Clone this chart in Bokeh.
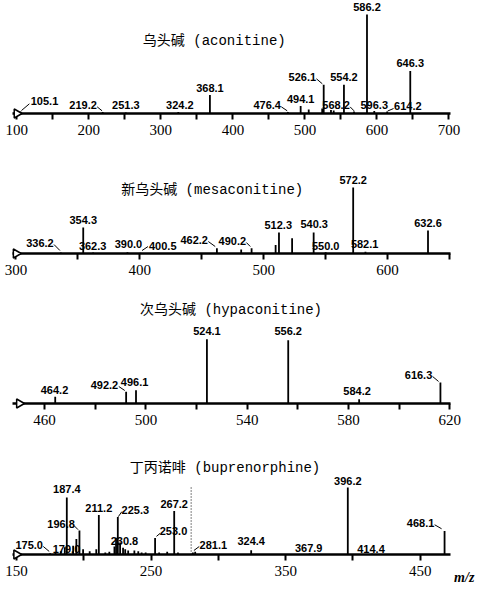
import numpy as np
from bokeh.plotting import figure
from bokeh.models import ColumnDataSource, Range1d, FixedTicker, Label
from bokeh.layouts import column
from bokeh.core.properties import value
from bokeh.embed import file_html
from bokeh.resources import INLINE

# ---------------- data ----------------
TITLES = ["乌头碱 (aconitine)", "新乌头碱 (mesaconitine)",
          "次乌头碱 (hypaconitine)", "丁丙诺啡 (buprenorphine)"]
X_UNIT = "m/z"

P1_MZ = [105.1, 219.2, 251.3, 324.2, 368.1, 476.4, 494.1, 505.3, 524.0, 526.1,
         536.2, 540.0, 554.2, 568.2, 586.2, 596.3, 614.2, 646.3]
P1_INT = [2, 1.5, 1, 1.5, 18.6, 1.5, 7.5, 4, 5, 29, 3.5, 3, 29, 2, 100, 2.5, 2, 43]
P1_LABELED = [105.1, 219.2, 251.3, 324.2, 368.1, 476.4, 494.1, 526.1, 554.2,
              568.2, 586.2, 596.3, 614.2, 646.3]
P1_TICKS = [100, 200, 300, 400, 500, 600, 700]
P1_MINOR = [150, 250, 350, 450, 550, 650]

P2_MZ = [336.2, 354.3, 362.3, 390.0, 400.5, 462.2, 481.8, 490.2, 509.6, 512.3,
         522.9, 540.3, 550.0, 572.2, 582.1, 632.6]
P2_INT = [1.5, 39.4, 1.5, 2, 1, 8, 6, 8, 13, 32, 23, 32, 2, 100, 2.5, 35]
P2_LABELED = [336.2, 354.3, 362.3, 390.0, 400.5, 462.2, 490.2, 512.3, 540.3,
              550.0, 572.2, 582.1, 632.6]
P2_TICKS = [300, 400, 500, 600]
P2_MINOR = [350, 450, 550, 650]

P3_MZ = [464.2, 492.2, 496.1, 524.1, 556.2, 584.2, 616.3]
P3_INT = [10.4, 18.2, 20.7, 100, 98.4, 6.7, 32.7]
P3_LABELED = [464.2, 492.2, 496.1, 524.1, 556.2, 584.2, 616.3]
P3_TICKS = [460, 500, 540, 580, 620]
P3_MINOR = [480, 520, 560, 600]

P4_MZ = [175.0, 179.0, 182.9, 185.9, 187.4, 192.1, 194.5, 196.8, 199.5, 204.4,
         209.3, 211.2, 216.0, 219.0, 222.8, 224.0, 225.3, 227.0, 229.2, 230.8,
         233.0, 237.6, 240.5, 243.0, 246.0, 253.0, 256.0, 262.0, 267.2, 270.0,
         281.1, 282.8, 324.4, 367.9, 396.2, 414.4, 468.1]
P4_INT = [2, 3, 5, 11, 85, 13, 23, 36, 8, 5,
          8, 59, 3, 4, 12, 25, 56, 18, 10, 8,
          6, 6, 5, 3, 3, 24.5, 3, 4, 65, 3,
          3, 4, 6.5, 1.5, 100, 1.5, 35]
P4_LABELED = [175.0, 179.0, 187.4, 196.8, 211.2, 225.3, 230.8, 253.0, 267.2,
              281.1, 324.4, 367.9, 396.2, 414.4, 468.1]
P4_TICKS = [150, 250, 350, 450]
P4_MINOR = [200, 300, 400]
P4_DOTTED = [279.8]          # dotted marker line (relative intensity 100)
P4_DOTTED_INT = [100]

AXIS_START = [100, 300, 450, 150]   # open triangle at start of each axis

# ---------------- style / layout ----------------
GEOM = [
    dict(top=8, height=147, axis_y=121, h100=99.0, ref=100, px_ref=22.4, scale=0.7317, L=18, R=463, title=(223, 48)),
    dict(top=155, height=140, axis_y=261, h100=66.0, ref=300, px_ref=23.5, scale=1.253, L=20, R=463, title=(222, 197)),
    dict(top=295, height=148, axis_y=411, h100=64.3, ref=460, px_ref=49.3, scale=2.55, L=17, R=458, title=(237, 317)),
    dict(top=443, height=147, axis_y=562, h100=67.0, ref=150, px_ref=23.0, scale=1.355, L=19, R=460, title=(233, 475)),
]
UNIT_POS = (484, 585)   # page px, right edge / middle of the "m/z" text

LABEL_OFF = [
    {105.1: (24, -10.7), 219.2: (-19.6, -7.2), 251.3: (0, -7.5), 324.2: (1.5, -7),
     368.1: (0, -7.3), 476.4: (-20.7, -7.2), 494.1: (0, -7.3), 526.1: (-21.4, -8),
     554.2: (0, -8), 568.2: (-18, -6.7), 586.2: (0, -8), 596.3: (0, -6.3),
     614.2: (20.7, -5.7), 646.3: (0, -8)},
    {336.2: (-20.9, -10), 354.3: (0, -7), 362.3: (-0.5, -6.7), 390.0: (1, -7.7),
     400.5: (22.3, -7.3), 462.2: (-22.7, -8.7), 490.2: (-19.3, -7.4), 512.3: (-0.7, -7.7),
     540.3: (0.5, -8), 550.0: (0, -6.4), 572.2: (0, -8), 582.1: (-0.8, -8), 632.6: (0, -7.7)},
    {464.2: (-0.7, -6.6), 492.2: (-21.7, -7), 496.1: (-1.4, -7.7), 524.1: (0, -8.4),
     556.2: (0, -9.5), 584.2: (-2, -8.4), 616.3: (-21.9, -7.3)},
    {175.0: (-20.9, -8.4), 179.0: (11, -3.5), 187.4: (0, -8.3), 196.8: (-18.4, -6.7),
     211.2: (0, -7.3), 225.3: (17.5, -7), 230.8: (-0.8, -8), 253.0: (18.4, -7.4),
     267.2: (0, -7.3), 281.1: (20.4, -7.3), 324.4: (0, -8.7), 367.9: (-1, -5.3),
     396.2: (0, -6.7), 414.4: (-1.3, -4.3), 468.1: (-24, -8.3)},
]

LEADERS = [
    {105.1: (1, -1, 9, -7.7), 219.2: (-5.6, -5.2, -0.6, -1.2), 476.4: (-6.7, -5.2, -0.7, -1.2),
     526.1: (-7.4, -6, -1.4, -1), 568.2: (-4, -4.7, 0, -0.7), 614.2: (6.5, -3, 0.5, -0.5)},
    {336.2: (-6.9, -8, -0.9, -2), 400.5: (1.6, -2.3, 7.6, -6.3),
     462.2: (-8.7, -6.7, -1.7, -1.7), 490.2: (-5.3, -5.7, -1.3, -1.7)},
    {492.2: (-7.4, -5.3, -1.4, -1.3), 616.3: (-7.9, -6, -1.9, -1)},
    {175.0: (-6.9, -6.7, -0.9, -1.7), 196.8: (-5.4, -4.7, -1.4, -0.7),
     225.3: (0.5, -0.3, 4, -5.3), 253.0: (1.4, -1.7, 5, -4.7),
     281.1: (1, -2, 6.4, -6), 468.1: (-10, -6.3, -3, -2.3)},
]

PANELS = [
    (P1_MZ, P1_INT, P1_LABELED, P1_TICKS, P1_MINOR),
    (P2_MZ, P2_INT, P2_LABELED, P2_TICKS, P2_MINOR),
    (P3_MZ, P3_INT, P3_LABELED, P3_TICKS, P3_MINOR),
    (P4_MZ, P4_INT, P4_LABELED, P4_TICKS, P4_MINOR),
]

FIG_W = 482
PAGE_LEFT = 8
LABEL_FONT = value("Liberation Sans")
TICK_FONT = "Liberation Serif"
TITLE_FONT = "Liberation Mono, Noto Sans CJK SC"

figs = []
for i, ((mz, inten, labeled, ticks, minor), g) in enumerate(zip(PANELS, GEOM)):
    def dx(page_x, g=g):
        return g["ref"] + (page_x - g["px_ref"]) / g["scale"]

    def dy(page_y, g=g):
        return (g["axis_y"] - page_y) / g["h100"] * 100.0

    x0, x1 = dx(g["L"]), dx(g["R"])
    y1 = dy(g["top"])
    p = figure(width=FIG_W, height=g["height"], output_backend="svg",
               toolbar_location=None, x_range=Range1d(x0, x1), y_range=Range1d(0, y1),
               y_axis_location=None, min_border_left=g["L"] - PAGE_LEFT,
               min_border_right=PAGE_LEFT + FIG_W - g["R"], min_border_top=0,
               min_border_bottom=g["top"] + g["height"] - g["axis_y"])
    p.grid.visible = False
    p.outline_line_color = None
    p.background_fill_color = "white"
    p.border_fill_color = "white"

    ax = p.xaxis[0]
    ax.ticker = FixedTicker(ticks=ticks, minor_ticks=minor)
    ax.axis_line_width = 2.5
    ax.axis_line_color = "black"
    ax.major_tick_line_width = 2
    ax.minor_tick_line_width = 2
    ax.major_tick_out = 6
    ax.minor_tick_out = 6
    ax.major_tick_in = 0
    ax.minor_tick_in = 0
    ax.major_tick_line_color = "black"
    ax.minor_tick_line_color = "black"
    ax.major_label_text_font = TICK_FONT
    ax.major_label_text_font_size = "15px"
    ax.major_label_text_color = "black"
    ax.major_label_standoff = 5

    # peaks
    src = ColumnDataSource(dict(x=mz, y=inten, z=[0] * len(mz)))
    p.segment(x0="x", y0="z", x1="x", y1="y", source=src, line_color="black", line_width=1.8)

    # labels
    lab_int = [inten[mz.index(m)] for m in labeled]
    offs = [LABEL_OFF[i][m] for m in labeled]
    lsrc = ColumnDataSource(dict(x=labeled, y=lab_int, t=["%.1f" % m for m in labeled],
                                 ox=[o[0] for o in offs], oy=[o[1] for o in offs]))
    p.text(x="x", y="y", text="t", x_offset="ox", y_offset="oy", source=lsrc,
           text_font=LABEL_FONT, text_font_size="11px", text_font_style="bold",
           text_align="center", text_baseline="middle", text_color="black")

    # leader lines
    lx0, ly0, lx1, ly1 = [], [], [], []
    for m, (a, b, c, d) in LEADERS[i].items():
        yy = inten[mz.index(m)]
        lx0.append(m + a / g["scale"]); ly0.append(yy - b / g["h100"] * 100)
        lx1.append(m + c / g["scale"]); ly1.append(yy - d / g["h100"] * 100)
    p.segment(x0=lx0, y0=ly0, x1=lx1, y1=ly1, line_color="black", line_width=1)

    if i == 3:
        dsrc = ColumnDataSource(dict(x=P4_DOTTED, y=P4_DOTTED_INT, z=[0]))
        p.segment(x0="x", y0="z", x1="x", y1="y", source=dsrc, line_color="black",
                  line_width=1, line_dash="1 2")

    # start triangle
    p.scatter(x=[AXIS_START[i]], y=[0], marker="triangle", size=9, angle=-np.pi / 2,
              fill_color="white", line_color="black", line_width=1.5, level="overlay")

    # title
    tx, ty = g["title"]
    p.add_layout(Label(x=dx(tx), y=dy(ty), text=TITLES[i], text_font=TITLE_FONT,
                       text_font_size="14px", text_align="center", text_baseline="middle",
                       text_color="black"))
    if i == 3:
        ux, uy = UNIT_POS
        p.text(x=[dx(ux)], y=[dy(uy)], text=[X_UNIT], text_font=value("Liberation Serif"),
               text_font_size="14px", text_font_style="bold italic",
               text_align="right", text_baseline="middle", text_color="black",
               level="overlay")
    figs.append(p)

layout = column(*figs, spacing=0)
open("out.html", "w").write(file_html(layout, INLINE))
